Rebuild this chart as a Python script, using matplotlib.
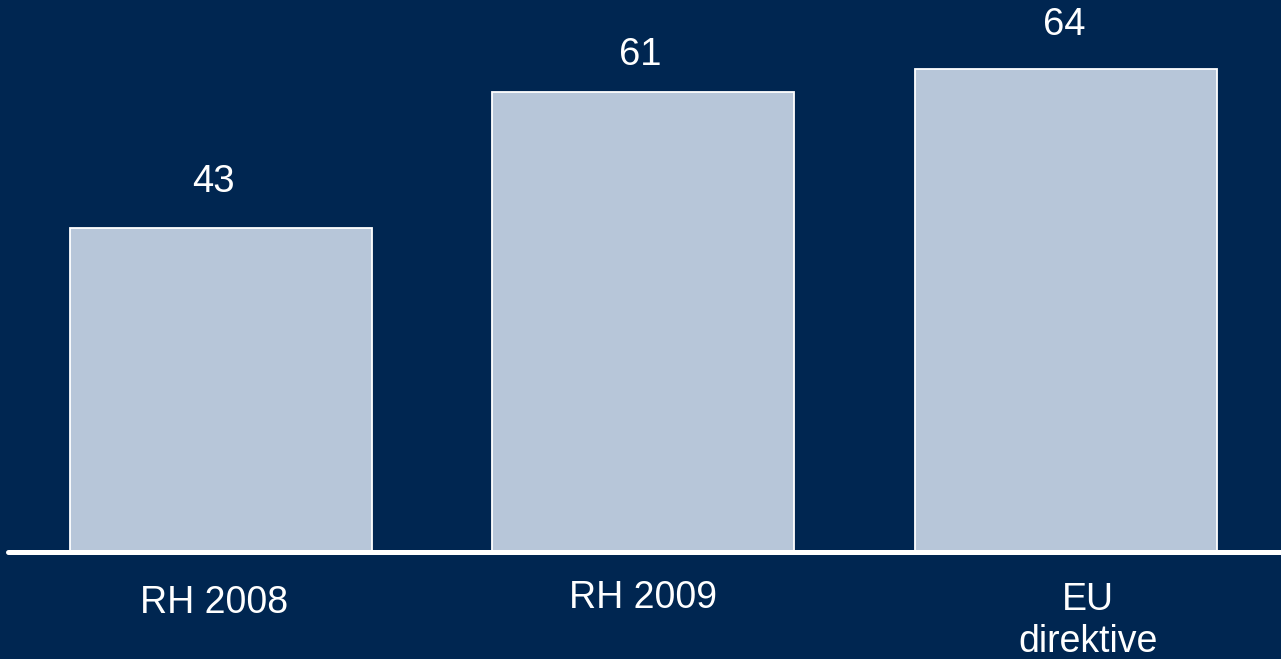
import matplotlib
matplotlib.use("Agg")
import matplotlib.pyplot as plt

categories = ["RH 2008", "RH 2009", "EU\ndirektive"]
values = [43, 61, 64]

BG = "#002651"
BAR = "#b7c6d9"

plt.rcParams['font.family'] = ['Liberation Sans', 'DejaVu Sans']

fig = plt.figure(figsize=(12.81, 6.59), dpi=100, facecolor=BG)
ax = fig.add_axes([0, 1 - 552 / 659, 1, 552 / 659])
ax.set_facecolor(BG)

x = list(range(len(values)))
ax.bar(x, values, width=0.715, color=BAR, edgecolor="white", linewidth=1.3, zorder=2)

ax.set_xlim(-0.523, 2.509)
ax.set_ylim(0, 73.2)

# baseline
ax.plot([-0.505, 2.6], [0, 0], color="white", linewidth=3.6,
        solid_capstyle="round", clip_on=False, zorder=3)

# value labels
label_offsets = [28, 19, 26]
label_dx = [-8, -3, -2]
for xi, v, off, dx in zip(x, values, label_offsets, label_dx):
    ax.annotate(str(v), (xi, v), xytext=(dx, off), textcoords="offset pixels",
                ha="center", va="bottom", color="white", fontsize=27.5)

# category labels
cat_dx = [-0.017, -0.002, 0.052]
cat_y = [603, 598, 621]
for xi, c, dx, py in zip(x, categories, cat_dx, cat_y):
    ax.text(xi + dx, (552 - py) / 552 * 73.2, c, ha="center", va="center",
            color="white", fontsize=27, linespacing=1.24, clip_on=False)

for s in ax.spines.values():
    s.set_visible(False)
ax.set_xticks([])
ax.set_yticks([])

fig.savefig("out.png", dpi=100, facecolor=BG)
